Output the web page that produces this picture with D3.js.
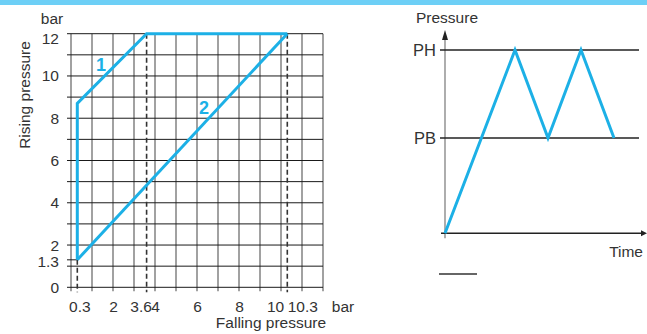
<!DOCTYPE html>
<html><head><meta charset="utf-8">
<script src="https://cdn.jsdelivr.net/npm/d3@7"></script>
<style>
html,body{margin:0;padding:0;background:#fff;}
svg{display:block;font-family:"Liberation Sans",Arial,sans-serif;}
</style></head>
<body>
<svg id="c" width="647" height="334"></svg>
<script>
// ---------- data ----------
const xTickValues = [0.3, 2, 3.6, 4, 6, 8, 10, 10.3];
const xTickLabels = ["0.3", "2", "3.6", "4", "6", "8", "10", "10.3"];
const yTickValues = [0, 1.3, 2, 4, 6, 8, 10, 12];
const yTickLabels = ["0", "1.3", "2", "4", "6", "8", "10", "12"];
const curve1Falling = [0.3, 0.3, 3.6, 10.3];
const curve1Rising  = [1.3, 8.7, 12, 12];
const curve2Falling = [10.3, 0.3];
const curve2Rising  = [12, 1.3];
const dashedFalling = [0.3, 3.6, 10.3];
const dashedTopRising = [1.3, 12, 12];
const curveLabels = ["1", "2"];
const curveLabelFalling = [1.43, 6.33];
const curveLabelRising = [10.52, 8.53];

const levelLabels = ["PB", "PH"];
const levelValues = [0.52, 1.0];
const cycleTime = [0, 7, 10.3, 13.6, 16.9];
const cyclePressure = [0, 1.0, 0.52, 1.0, 0.52];

// ---------- setup ----------
const svg = d3.select("#c");
const BLUE = "#1cb0e6", TXT = "#333";
const FS = 15.5;
svg.append("rect").attr("x",0).attr("y",0).attr("width",647).attr("height",5).attr("fill","#6dcff6");

// ---------- left chart ----------
const x = d3.scaleLinear().domain([0,12]).range([71,323]);
const y = d3.scaleLinear().domain([0,12]).range([287.3,33.7]);
const L = svg.append("g");

// vertical grid (grey)
L.append("g").selectAll("line").data(d3.range(0,13)).join("line")
  .attr("x1",d=>x(d)).attr("x2",d=>x(d)).attr("y1",y(12)).attr("y2",y(0)+4)
  .attr("stroke","#8a8a8a").attr("stroke-width",1.6);
// horizontal grid (black)
L.append("g").selectAll("line").data(d3.range(0,13)).join("line")
  .attr("x1",x(0)-4).attr("x2",x(12)).attr("y1",d=>y(d)).attr("y2",d=>y(d))
  .attr("stroke","#1a1a1a").attr("stroke-width",1);
// 1.3 tick
L.append("line").attr("x1",x(0)-4).attr("x2",x(0.3)).attr("y1",y(1.3)).attr("y2",y(1.3))
  .attr("stroke","#1a1a1a").attr("stroke-width",1);

// dashed lines
L.append("g").selectAll("line").data(dashedFalling).join("line")
  .attr("x1",d=>x(d)).attr("x2",d=>x(d))
  .attr("y1",(d,i)=>y(dashedTopRising[i])).attr("y2",y(0)+5)
  .attr("stroke","#333").attr("stroke-width",1.6).attr("stroke-dasharray","5,3");

// x tick labels
const xOffsets = {"0.3":2,"3.6":-6,"10":-6,"10.3":15};
const xAxis = d3.axisBottom(x).tickValues(xTickValues).tickFormat((d,i)=>xTickLabels[i]).tickSize(0).tickPadding(0);
const gx = L.append("g").attr("transform",`translate(0,${y(0)})`).call(xAxis);
gx.select(".domain").remove();
gx.selectAll("text").attr("y",25).attr("dy",0).attr("fill",TXT).attr("font-size",FS)
  .attr("font-family","Liberation Sans, Arial, sans-serif")
  .attr("dx",(d,i)=>xOffsets[xTickLabels[i]]||0);

// y tick labels
const yOffsets = {"12":5,"1.3":1.5};
const yAxis = d3.axisLeft(y).tickValues(yTickValues).tickFormat((d,i)=>yTickLabels[i]).tickSize(0).tickPadding(0);
const gy = L.append("g").attr("transform",`translate(59,0)`).call(yAxis);
gy.select(".domain").remove();
gy.selectAll("text").attr("x",0).attr("fill",TXT).attr("font-size",FS)
  .attr("font-family","Liberation Sans, Arial, sans-serif")
  .attr("dy",(d,i)=>`${0.32 + (yOffsets[yTickLabels[i]]||0)/FS}em`);

// blue curves
const line = d3.line().x(d=>x(d[0])).y(d=>y(d[1]));
L.append("path").datum(curve1Falling.map((v,i)=>[v,curve1Rising[i]]))
  .attr("d",line).attr("fill","none").attr("stroke",BLUE).attr("stroke-width",3).attr("stroke-linejoin","miter");
L.append("path").datum(curve2Falling.map((v,i)=>[v,curve2Rising[i]]))
  .attr("d",line).attr("fill","none").attr("stroke",BLUE).attr("stroke-width",3);
L.append("g").selectAll("text").data(curveLabels).join("text")
  .attr("x",(d,i)=>x(curveLabelFalling[i])).attr("y",(d,i)=>y(curveLabelRising[i]))
  .attr("text-anchor","middle").attr("dy","0.36em")
  .attr("fill",BLUE).attr("font-weight","bold").attr("font-size",18).text(d=>d);

// axis titles
L.append("text").attr("x",52).attr("y",24).attr("text-anchor","middle").attr("fill",TXT).attr("font-size",FS).text("bar");
L.append("text").attr("x",343).attr("y",312).attr("text-anchor","middle").attr("fill",TXT).attr("font-size",FS).text("bar");
L.append("text").attr("x",271).attr("y",328).attr("text-anchor","middle").attr("fill",TXT).attr("font-size",FS).text("Falling pressure");
L.append("text").attr("transform","translate(30,95) rotate(-90)").attr("text-anchor","middle").attr("fill",TXT).attr("font-size",FS).text("Rising pressure");

// ---------- right chart ----------
const t = d3.scaleLinear().domain([0,20]).range([445,645]);
const p = d3.scaleLinear().domain([0,1]).range([233.3,50]);
const R = svg.append("g");

// y axis (grey) with arrow
R.append("line").attr("x1",t(0)).attr("x2",t(0)).attr("y1",p(0)+5).attr("y2",38)
  .attr("stroke","#777").attr("stroke-width",1.2);
R.append("path").attr("d",`M${t(0)},30 L${t(0)-3},40 L${t(0)+3},40 Z`).attr("fill","#222");
// x axis with arrow
R.append("line").attr("x1",t(0)-4).attr("x2",642).attr("y1",p(0)).attr("y2",p(0))
  .attr("stroke","#222").attr("stroke-width",1.4);
R.append("path").attr("d",`M647,${p(0)} L641,${p(0)-3} L641,${p(0)+3} Z`).attr("fill","#222");

// level lines
R.append("g").selectAll("line").data(levelValues).join("line")
  .attr("x1",t(0)-5).attr("x2",639).attr("y1",d=>p(d)).attr("y2",d=>p(d))
  .attr("stroke","#222").attr("stroke-width",1.4);
R.append("g").selectAll("text").data(levelLabels).join("text")
  .attr("x",t(0)-9).attr("y",(d,i)=>p(levelValues[i])).attr("dy","0.36em")
  .attr("text-anchor","end").attr("fill",TXT).attr("font-size",16.5).text(d=>d);

// cycle
const cyc = d3.line().x(d=>t(d[0])).y(d=>p(d[1]));
R.append("path").datum(cycleTime.map((v,i)=>[v,cyclePressure[i]]))
  .attr("d",cyc).attr("fill","none").attr("stroke",BLUE).attr("stroke-width",3).attr("stroke-linejoin","miter");

R.append("text").attr("x",447).attr("y",23).attr("text-anchor","middle").attr("fill",TXT).attr("font-size",FS).text("Pressure");
R.append("text").attr("x",643).attr("y",257).attr("text-anchor","end").attr("fill",TXT).attr("font-size",FS).text("Time");

// stray short rule
R.append("line").attr("x1",439).attr("x2",477).attr("y1",274).attr("y2",274).attr("stroke","#333").attr("stroke-width",1.4);
</script>
</body></html>
